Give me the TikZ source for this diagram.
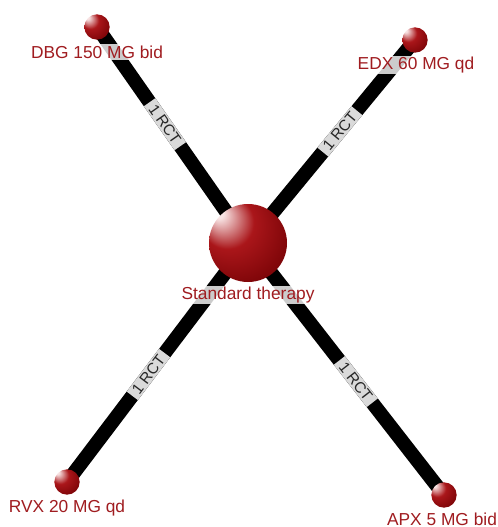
\documentclass[tikz,border=0pt]{standalone}
\usepackage{fontspec}
\setmainfont{Liberation Sans}
\usetikzlibrary{backgrounds}
\definecolor{lblred}{RGB}{160,28,32}
\definecolor{sphhl}{RGB}{248,228,228}
\definecolor{sphmid}{RGB}{170,22,26}
\definecolor{sphdark}{RGB}{125,5,8}
\definecolor{sphedge}{RGB}{100,0,0}
\definecolor{bandgray}{RGB}{218,218,218}
\pgfdeclareradialshading{sphereshade}{\pgfpoint{-20bp}{20bp}}{%
  color(0bp)=(sphhl); color(3bp)=(sphhl); color(17bp)=(sphmid);
  color(34bp)=(sphdark); color(50bp)=(sphedge)}
\tikzset{
  ball/.style={circle, shading=sphereshade, draw=none, inner sep=0pt},
  bigball/.style={ball, minimum size=58.5pt},
  smallball/.style={ball, minimum size=19pt},
  conn/.style={line width=10.5pt, black},
  rct/.style={sloped, pos=0.55, fill=bandgray, text=black!85, inner xsep=3.5pt,
    inner ysep=0pt, minimum height=10.5pt, font=\fontsize{11.5}{11.5}\selectfont},
  lbl/.style={text=lblred, fill=white, fill opacity=0.8, text opacity=1,
    inner sep=1pt, font=\fontsize{13}{13}\selectfont}
}
\begin{document}
\begin{tikzpicture}[x=0.75pt, y=-0.75pt]
\useasboundingbox (0,0) rectangle (498,527);
\node[bigball] (c) at (248,243) {};
\node[smallball] (dbg) at (97,27) {};
\node[smallball] (edx) at (415,40) {};
\node[smallball] (rvx) at (67,482) {};
\node[smallball] (apx) at (444,495) {};
\begin{scope}[on background layer]
\draw[conn] (c.center) -- node[rct] {1 RCT} (dbg.center);
\draw[conn] (c.center) -- node[rct] {1 RCT} (edx.center);
\draw[conn] (c.center) -- node[rct] {1 RCT} (rvx.center);
\draw[conn] (c.center) -- node[rct] {1 RCT} (apx.center);
\end{scope}
\node[lbl] (cl) at (248,295) {Standard therapy};
\node[lbl] (dbgl) at (97,52) {DBG 150 MG bid};
\node[lbl] (edxl) at (416,65) {EDX 60 MG qd};
\node[lbl] (rvxl) at (67,508) {RVX 20 MG qd};
\node[lbl] (apxl) at (442,519) {APX 5 MG bid};
\end{tikzpicture}
\end{document}
